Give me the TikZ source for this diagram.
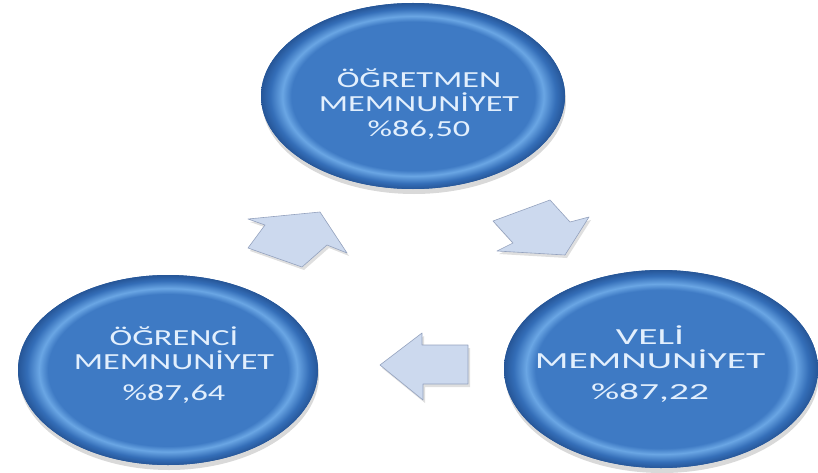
\documentclass[tikz,border=0pt]{standalone}
\usepackage{fontspec}
\setmainfont{Carlito}
\usetikzlibrary{shadows}

\definecolor{kenar}{RGB}{38,86,152}
\definecolor{halka}{RGB}{52,110,184}
\definecolor{parlak}{RGB}{106,166,228}
\definecolor{yuz}{RGB}{62,122,196}
\definecolor{yazirengi}{RGB}{226,239,253}
\definecolor{okdolgu}{RGB}{204,217,238}
\definecolor{okcizgi}{RGB}{148,162,190}

\pgfdeclareradialshading{kure}{\pgfpointorigin}{color(0bp)=(yuz); color(20bp)=(yuz); color(21.5bp)=(parlak); color(23.5bp)=(halka); color(25bp)=(kenar); color(50bp)=(kenar)}

\begin{document}
\begin{tikzpicture}[x=1pt, y=-1pt,
    top/.style={fill=kenar, drop shadow={opacity=0.3, shadow xshift=1pt, shadow yshift=-5pt}},
    etiket/.style={text=yazirengi, align=center, font=\fontsize{23}{24.5}\selectfont, xscale=1.49},
    ok/.style={fill=okdolgu, draw=okcizgi, line width=0.6pt, line join=round,
        drop shadow={opacity=0.25, shadow xshift=2pt, shadow yshift=-3pt}}]
    \useasboundingbox (0,0) rectangle (818,473);

    % Üst daire
    \fill[top] (413,96) ellipse (152 and 93);
    \shade[shading=kure] (413,96) ellipse (152 and 93);
    \node[etiket] (ogretmen) at (419,104) {ÖĞRETMEN\\MEMNUNİYET\\\%86,50};

    % Sol daire
    \fill[top] (168,370) ellipse (150 and 95);
    \shade[shading=kure] (168,370) ellipse (150 and 95);
    \node[etiket] (ogrenci) at (174,365) {ÖĞRENCİ\\MEMNUNİYET\\[6pt]\%87,64};

    % Sağ daire
    \fill[top] (661,369) ellipse (157 and 99);
    \shade[shading=kure] (661,369) ellipse (157 and 99);
    \node[etiket, xscale=1.15] (veli) at (650,364) {VELİ\\MEMNUNİYET\\[6pt]\%87,22};

    % Oklar
    \draw[ok] (320,212) -- (347,253) -- (327,245) -- (302,267) -- (248,248) -- (265,225) -- (248,219) -- cycle;
    \draw[ok] (493,221) -- (550,200) -- (570,222) -- (589,217) -- (565,255) -- (497,251) -- (513,243) -- cycle;
    \draw[ok] (380,365) -- (422,333) -- (422,345) -- (468,345) -- (468,384) -- (423,384) -- (423,400) -- cycle;
\end{tikzpicture}
\end{document}
